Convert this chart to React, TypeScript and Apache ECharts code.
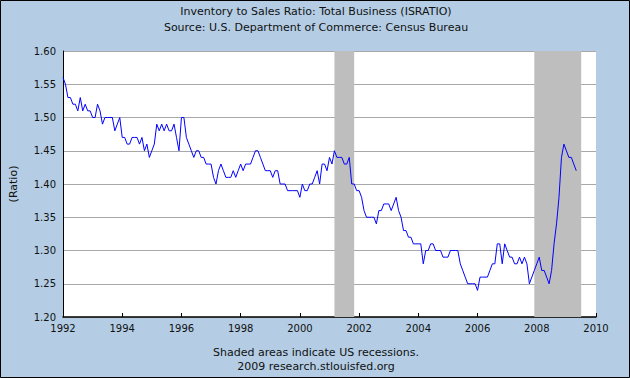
import React, { useEffect, useRef } from "react";
import * as echarts from "echarts";

// Inventory to Sales Ratio, monthly, starting January 1992
const startYear = 1992;
const v1992 = [1.56, 1.55, 1.53, 1.53, 1.52, 1.52, 1.51, 1.53, 1.51, 1.52, 1.51, 1.51];
const v1993 = [1.50, 1.50, 1.52, 1.51, 1.49, 1.50, 1.50, 1.50, 1.50, 1.48, 1.49, 1.50];
const v1994 = [1.47, 1.47, 1.46, 1.46, 1.47, 1.47, 1.47, 1.46, 1.47, 1.45, 1.46, 1.44];
const v1995 = [1.45, 1.46, 1.49, 1.48, 1.49, 1.48, 1.49, 1.48, 1.48, 1.49, 1.47, 1.45];
const v1996 = [1.50, 1.50, 1.47, 1.46, 1.45, 1.44, 1.45, 1.45, 1.44, 1.44, 1.43, 1.43];
const v1997 = [1.43, 1.41, 1.40, 1.42, 1.43, 1.42, 1.41, 1.41, 1.41, 1.42, 1.41, 1.42];
const v1998 = [1.43, 1.42, 1.43, 1.43, 1.43, 1.44, 1.45, 1.45, 1.44, 1.43, 1.42, 1.42];
const v1999 = [1.42, 1.41, 1.42, 1.42, 1.40, 1.40, 1.40, 1.39, 1.39, 1.39, 1.39, 1.39];
const v2000 = [1.38, 1.40, 1.39, 1.39, 1.40, 1.40, 1.41, 1.42, 1.40, 1.43, 1.43, 1.42];
const v2001 = [1.44, 1.43, 1.45, 1.44, 1.44, 1.44, 1.43, 1.43, 1.44, 1.40, 1.40, 1.39];
const v2002 = [1.39, 1.38, 1.36, 1.35, 1.35, 1.35, 1.35, 1.34, 1.36, 1.36, 1.37, 1.37];
const v2003 = [1.37, 1.36, 1.37, 1.38, 1.36, 1.35, 1.33, 1.33, 1.32, 1.32, 1.31, 1.31];
const v2004 = [1.31, 1.31, 1.28, 1.30, 1.30, 1.31, 1.31, 1.30, 1.30, 1.30, 1.29, 1.29];
const v2005 = [1.29, 1.30, 1.30, 1.30, 1.30, 1.28, 1.27, 1.26, 1.25, 1.25, 1.25, 1.25];
const v2006 = [1.24, 1.26, 1.26, 1.26, 1.26, 1.27, 1.28, 1.28, 1.31, 1.31, 1.28, 1.31];
const v2007 = [1.30, 1.29, 1.29, 1.28, 1.28, 1.29, 1.28, 1.29, 1.28, 1.25, 1.26, 1.27];
const v2008 = [1.28, 1.29, 1.27, 1.27, 1.26, 1.25, 1.27, 1.31, 1.34, 1.38, 1.44, 1.46];
const v2009 = [1.45, 1.44, 1.44, 1.43, 1.42];

const ratioValues = [
  ...v1992, ...v1993, ...v1994, ...v1995, ...v1996, ...v1997, ...v1998, ...v1999,
  ...v2000, ...v2001, ...v2002, ...v2003, ...v2004, ...v2005, ...v2006, ...v2007,
  ...v2008, ...v2009,
];

// Recession periods (decimal years): Mar 2001 - Nov 2001, Dec 2007 - Jun 2009
const recessionStarts = [2001 + 2 / 12, 2007 + 11 / 12];
const recessionEnds = [2001 + 10 / 12, 2009 + 6 / 12];

const titleLines = [
  "Inventory to Sales Ratio: Total Business (ISRATIO)",
  "Source: U.S. Department of Commerce: Census Bureau",
];
const footerLines = [
  "Shaded areas indicate US recessions.",
  "2009 research.stlouisfed.org",
];
const yAxisName = "(Ratio)";

export default function App() {
  const ref = useRef<HTMLDivElement>(null);

  useEffect(() => {
    if (!ref.current) return;
    const chart = echarts.init(ref.current, null, { renderer: "svg" });
    const data = ratioValues.map((v, i) => [startYear + i / 12, v]);
    const font = "DejaVu Sans";
    const textColor = "#111";
    chart.setOption({
      animation: false,
      backgroundColor: "#B4CDE4",
      textStyle: { fontFamily: font },
      grid: {
        left: 60,
        top: 51,
        width: 536,
        height: 266,
        show: true,
        backgroundColor: "#ffffff",
        borderWidth: 0,
      },
      xAxis: {
        type: "value",
        min: 1992,
        max: 2010,
        interval: 2,
        axisLine: { show: true, lineStyle: { color: "#000", width: 1.5 } },
        axisTick: { show: true, inside: true, length: 4, lineStyle: { color: "#000" } },
        axisLabel: {
          color: textColor,
          fontSize: 10,
          fontFamily: font,
          margin: 6,
          formatter: (v: number) => String(Math.round(v)),
        },
        splitLine: { show: false },
      },
      yAxis: {
        type: "value",
        min: 1.2,
        max: 1.6,
        interval: 0.05,
        name: yAxisName,
        nameLocation: "middle",
        nameGap: 44,
        nameTextStyle: { fontSize: 11, color: textColor, fontFamily: font },
        axisLine: { show: true, lineStyle: { color: "#000", width: 1 } },
        axisTick: { show: false },
        axisLabel: {
          color: textColor,
          fontSize: 10,
          fontFamily: font,
          margin: 7,
          formatter: (v: number) => v.toFixed(2),
        },
        splitLine: { show: true, lineStyle: { color: "#A8A8A8", width: 1 } },
      },
      series: [
        {
          type: "line",
          data,
          showSymbol: false,
          symbol: "none",
          lineStyle: { color: "#0000FF", width: 1 },
          itemStyle: { color: "#0000FF" },
          z: 3,
          markArea: {
            silent: true,
            itemStyle: { color: "#BEBEBE" },
            data: recessionStarts.map((s, i) => [{ xAxis: s }, { xAxis: recessionEnds[i] }]),
          },
        },
      ],
      graphic: [
        {
          type: "rect",
          shape: { x: 0.5, y: 0.5, width: 629, height: 377 },
          style: { fill: "none", stroke: "#000", lineWidth: 1 },
          silent: true,
          z: 100,
        },
        ...titleLines.map((t, i) => ({
          type: "text",
          x: 316,
          y: 11 + i * 16,
          style: {
            text: t,
            fontSize: 11,
            fontFamily: font,
            fill: textColor,
            textAlign: "center",
            textVerticalAlign: "middle",
          },
        })),
        ...footerLines.map((t, i) => ({
          type: "text",
          x: 316,
          y: 352 + i * 14,
          style: {
            text: t,
            fontSize: 11,
            fontFamily: font,
            fill: textColor,
            textAlign: "center",
            textVerticalAlign: "middle",
          },
        })),
      ],
    });
    return () => chart.dispose();
  }, []);

  return (
    <div
      ref={ref}
      style={{ position: "absolute", left: 0, top: 0, width: 630, height: 378 }}
    />
  );
}
